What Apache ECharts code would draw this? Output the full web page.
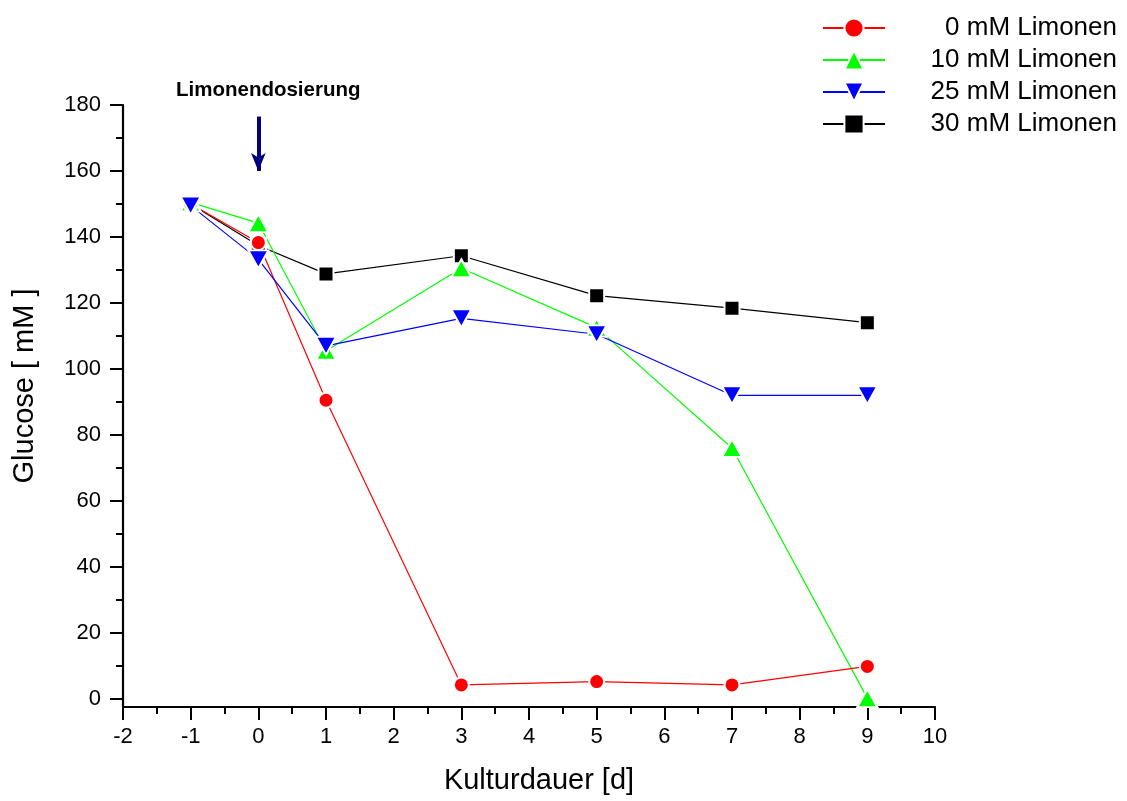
<!DOCTYPE html>
<html>
<head>
<meta charset="utf-8">
<script src="https://cdn.jsdelivr.net/npm/echarts@6/dist/echarts.min.js"></script>
<style>
  html, body { margin: 0; padding: 0; background: #fff; }
  #chart { width: 1127px; height: 801px; }
</style>
</head>
<body>
<div id="chart"></div>
<script>
// Culture time in days
const days = [-1, 0, 1, 3, 5, 7, 9];

// Glucose concentration [mM] per limonene dose
const glc0 = [150, 138.3, 90.5, 4.2, 5.2, 4.2, 9.8];
const glc10 = [150.5, 144.2, 105.5, 130.5, 112.5, 76, 0.2];
const glc25 = [149.5, 133.2, 107, 115.3, 110.5, 92, 92];
const glc30 = [150, 137.4, 128.8, 134.3, 122.2, 118.4, 114];

const seriesNames = ['0 mM Limonen', '10 mM Limonen', '25 mM Limonen', '30 mM Limonen'];

// Axis ticks
const xTicks = [-2, -1, 0, 1, 2, 3, 4, 5, 6, 7, 8, 9, 10];
const yTicks = [0, 20, 40, 60, 80, 100, 120, 140, 160, 180];
const yMinorTicks = [10, 30, 50, 70, 90, 110, 130, 150, 170];

// Dosing marker: arrow from/to (day, glucose)
const doseArrow = [[0, 176.5], [0, 160]];
const doseLabel = 'Limonendosierung';

const FONT = '"Liberation Sans", Arial, sans-serif';

function pairs(ys) {
  return days.map((d, i) => [d, ys[i]]);
}

function lineSeries(name, ys, color, symbol, size, rotate) {
  return {
    name: name,
    type: 'line',
    data: pairs(ys),
    symbol: symbol,
    symbolSize: size,
    symbolRotate: rotate || 0,
    showAllSymbol: true,
    lineStyle: { color: color, width: 1.2 },
    itemStyle: { color: color, borderColor: '#ffffff', borderWidth: 2 },
    emphasis: { disabled: true },
    animation: false
  };
}

const chart = echarts.init(document.getElementById('chart'), null, { renderer: 'canvas' });

const s30 = lineSeries(seriesNames[3], glc30, '#000000', 'rect', 15);
const s10 = lineSeries(seriesNames[1], glc10, '#00ff00', 'triangle', [20, 18]);
const s0 = lineSeries(seriesNames[0], glc0, '#ff0000', 'circle', 15);
const s25 = lineSeries(seriesNames[2], glc25, '#0000ff', 'triangle', [20, 18], 180);

s0.markLine = {
  silent: true,
  animation: false,
  symbol: ['none', 'arrow'],
  symbolSize: [11, 18],
  label: { show: false },
  lineStyle: { color: '#000080', width: 4, type: 'solid' },
  data: [[{ coord: doseArrow[0] }, { coord: doseArrow[1] }]]
};

const axisBlack = { color: '#000000', width: 2.2 };

const option = {
  backgroundColor: '#ffffff',
  animation: false,
  grid: { left: 123, right: 192, top: 105, bottom: 94, containLabel: false },
  legend: {
    data: seriesNames,
    orient: 'vertical',
    right: 10,
    top: 15,
    padding: 0,
    itemWidth: 62,
    itemHeight: 24,
    itemGap: 6,
    selectedMode: false,
    formatter: name => '{t|' + name + '}',
    textStyle: {
      rich: {
        t: { width: 227, align: 'right', fontSize: 26, fontFamily: FONT, color: '#000000', lineHeight: 26 }
      }
    }
  },
  xAxis: {
    type: 'value',
    min: xTicks[0],
    max: xTicks[xTicks.length - 1],
    interval: 1,
    name: 'Kulturdauer [d]',
    nameLocation: 'middle',
    nameGap: 59,
    nameTextStyle: { fontSize: 29, fontFamily: FONT, color: '#000000', padding: [0, 0, 0, 20] },
    axisLine: { show: true, onZero: false, lineStyle: axisBlack },
    axisTick: { show: true, inside: false, length: 13, lineStyle: { color: '#000', width: 2 } },
    minorTick: { show: true, splitNumber: 2, length: 7, lineStyle: { color: '#000', width: 2 } },
    axisLabel: { fontSize: 22, fontFamily: FONT, color: '#000000', margin: 19 },
    splitLine: { show: false },
    minorSplitLine: { show: false }
  },
  yAxis: [
    {
      type: 'value',
      min: -2.5,
      max: 180,
      name: 'Glucose [ mM ]',
      nameLocation: 'middle',
      nameGap: 84,
      nameRotate: 90,
      nameTextStyle: { fontSize: 29, fontFamily: FONT, color: '#000000', padding: [0, 0, 0, 40] },
      axisLine: { show: true, onZero: false, lineStyle: axisBlack },
      axisTick: { show: true, inside: false, length: 13, customValues: yTicks, lineStyle: { color: '#000', width: 2 } },
      axisLabel: { fontSize: 22, fontFamily: FONT, color: '#000000', margin: 22, customValues: yTicks },
      splitLine: { show: false }
    },
    {
      type: 'value',
      min: -2.5,
      max: 180,
      position: 'left',
      offset: 0,
      axisLine: { show: false, onZero: false },
      axisTick: { show: true, inside: false, length: 7, customValues: yMinorTicks, lineStyle: { color: '#000', width: 2 } },
      axisLabel: { show: false },
      splitLine: { show: false }
    }
  ],
  graphic: [
    {
      type: 'text',
      left: 176,
      top: 80,
      silent: true,
      style: {
        text: doseLabel,
        fontSize: 20.5,
        fontWeight: 'bold',
        fontFamily: FONT,
        fill: '#000000'
      }
    }
  ],
  series: [s30, s10, s0, s25]
};

chart.setOption(option);
</script>
</body>
</html>
